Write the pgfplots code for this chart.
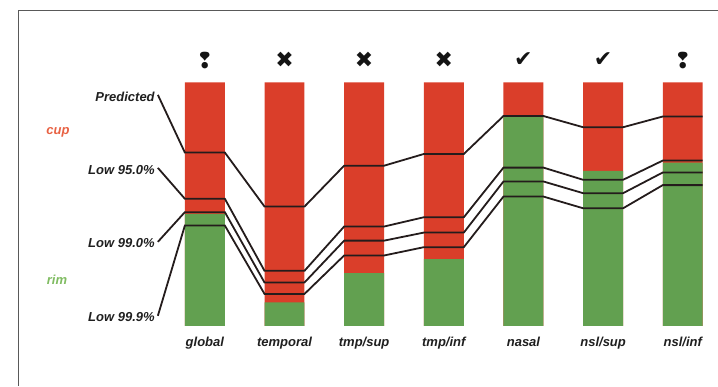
\documentclass[border=0pt]{standalone}
\usepackage{fontspec}
\setmainfont{Liberation Sans}
\newfontfamily\symfont{DejaVu Sans}
\usepackage{pgfplots}
\pgfplotsset{compat=1.18}
\definecolor{cupred}{RGB}{218,62,42}
\definecolor{rimgreen}{RGB}{98,160,80}
\definecolor{cuplbl}{RGB}{232,98,68}
\definecolor{rimlbl}{RGB}{128,188,98}
\definecolor{linec}{RGB}{36,28,28}
\begin{document}
\begin{tikzpicture}[font=\fontsize{13bp}{15bp}\selectfont\bfseries\itshape]
\begin{axis}[
  width=718bp, height=386bp, scale only axis,
  xmin=-2.572, xmax=6.437, ymin=-24.64, ymax=133.88,
  axis line style={draw=none}, tick style={draw=none},
  ytick=\empty,
  xtick={0,1,2,3,4,5,6},
  xticklabels={global,temporal,tmp/sup,tmp/inf,nasal,nsl/sup,nsl/inf},
  xticklabel style={anchor=base, yshift=39bp, text=black!88},
  clip=false,
]
\path (rel axis cs:0,0) rectangle (rel axis cs:1,1);
% frame
\draw[black!65, line width=0.9bp] (rel axis cs:0.02507,0) -- (rel axis cs:0.02507,0.9741) -- (rel axis cs:1,0.9741);
% bars: full cup (red), rim (green) overlay
\addplot[ybar, bar width=40bp, bar shift=0pt, fill=cupred, draw=none]
  coordinates {(0,100) (1,100) (2,100) (3,100) (4,100) (5,100) (6,100)};
\addplot[ybar, bar width=40bp, bar shift=0pt, fill=rimgreen, draw=none]
  coordinates {(0,46.0) (1,9.6) (2,21.6) (3,27.4) (4,85.7) (5,63.7) (6,67.1)};
% lines
\addplot[linec, line width=1.8bp, mark=none] coordinates {
 (-0.59,94.9) (-0.251,71.2) (0.251,71.2) (0.749,49.0) (1.251,49.0) (1.749,65.8) (2.251,65.8)
 (2.749,70.6) (3.251,70.6) (3.749,86.2) (4.251,86.2) (4.749,81.6) (5.251,81.6) (5.749,86.0) (6.251,86.0)};
\addplot[linec, line width=1.8bp, mark=none] coordinates {
 (-0.59,64.9) (-0.251,52.2) (0.251,52.2) (0.749,22.6) (1.251,22.6) (1.749,40.8) (2.251,40.8)
 (2.749,44.6) (3.251,44.6) (3.749,65.0) (4.251,65.0) (4.749,60.0) (5.251,60.0) (5.749,67.9) (6.251,67.9)};
\addplot[linec, line width=1.8bp, mark=none] coordinates {
 (-0.59,34.5) (-0.251,46.7) (0.251,46.7) (0.749,17.8) (1.251,17.8) (1.749,35.0) (2.251,35.0)
 (2.749,38.3) (3.251,38.3) (3.749,59.3) (4.251,59.3) (4.749,54.5) (5.251,54.5) (5.749,63.0) (6.251,63.0)};
\addplot[linec, line width=1.8bp, mark=none] coordinates {
 (-0.59,4.1) (-0.251,41.2) (0.251,41.2) (0.749,13.1) (1.251,13.1) (1.749,28.9) (2.251,28.9)
 (2.749,32.3) (3.251,32.3) (3.749,53.1) (4.251,53.1) (4.749,48.3) (5.251,48.3) (5.749,57.8) (6.251,57.8)};
% labels
\node[anchor=east, inner sep=1bp, text=black!88] at (axis cs:-0.615,94.25) {Predicted};
\node[anchor=east, inner sep=1bp, text=black!88] at (axis cs:-0.615,64.07) {Low 95.0\%};
\node[anchor=east, inner sep=1bp, text=black!88] at (axis cs:-0.615,34.09) {Low 99.0\%};
\node[anchor=east, inner sep=1bp, text=black!88] at (axis cs:-0.615,3.49) {Low 99.9\%};
\node[text=cuplbl] at (axis cs:-1.844,79.3) {cup};
\node[text=rimlbl] at (axis cs:-1.857,18.9) {rim};
% verdict symbols
\foreach \i/\s in {0/❢,1/✖,2/✖,3/✖,4/✔,5/✔,6/❢}{
  \edef\tmp{\noexpand\node[font=\noexpand\symfont\noexpand\fontsize{22bp}{24bp}\noexpand\selectfont, text=black!92] at (axis cs:\i,109.2) {\s};}
  \tmp
}
\end{axis}
\end{tikzpicture}
\end{document}
